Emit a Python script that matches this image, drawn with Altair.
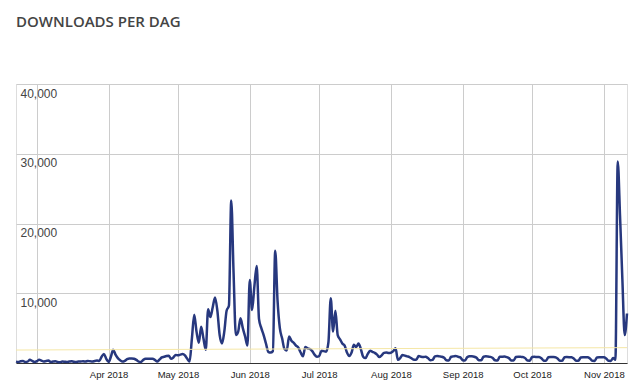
import altair as alt
import pandas as pd

# Daily downloads, 20 Feb 2018 - 11 Nov 2018
feb = [200, 150, 250, 300, 150, 200, 450, 300, 150]
mar = [250, 450, 350, 200, 300, 350, 150, 200, 250, 150, 120, 200, 180, 150, 200, 250,
       180, 150, 200, 220, 250, 200, 300, 250, 200, 300, 350, 300, 900, 1300, 600]
apr = [150, 900, 1900, 1200, 700, 400, 200, 300, 550, 650, 650, 600, 450, 200, 150,
       450, 600, 600, 600, 600, 450, 200, 500, 800, 900, 1000, 1050, 600, 800, 1150]
may = [1100, 1200, 1300, 1100, 600, 200, 3500, 6900, 4500, 2900, 5200, 3500, 1900, 7700,
       6600, 8000, 9400, 7500, 4000, 2800, 4500, 7500, 8200, 23300, 13000, 4000, 4500,
       6400, 5000, 3800, 2500]
jun = [11900, 7600, 11000, 13900, 6300, 5000, 4000, 2800, 1600, 1500, 1700, 16100, 9000,
       5000, 3500, 2000, 1800, 3800, 3200, 2900, 2500, 2200, 1500, 950, 2300, 2100, 2000,
       1700, 1200, 900]
jul = [1000, 1750, 1700, 1600, 3000, 9300, 4500, 7500, 4000, 3400, 2800, 2500, 1500, 1000,
       1500, 2600, 2300, 2800, 2000, 900, 700, 1300, 1750, 1600, 1450, 1200, 850, 1100,
       1450, 1500, 1450]
aug = [1480, 1700, 2100, 450, 700, 1150, 1050, 950, 850, 650, 450, 500, 1000, 900, 850,
       900, 700, 400, 450, 950, 1000, 950, 900, 750, 400, 350, 900, 950, 1000, 900, 800]
sep = [400, 350, 850, 950, 950, 900, 750, 400, 380, 900, 950, 920, 880, 700, 380, 350,
       880, 900, 920, 850, 700, 370, 350, 850, 900, 880, 870, 700, 360, 340]
oct_ = [850, 880, 860, 850, 680, 340, 330, 820, 860, 850, 830, 650, 330, 320, 830, 850,
        840, 820, 640, 320, 310, 800, 840, 830, 820, 630, 320, 300, 800, 830, 820]
nov = [820, 650, 320, 300, 700, 450, 28900, 21000, 12000, 4000, 7100]

values = feb + mar + apr + may + jun + jul + aug + sep + oct_ + nov
dates = pd.date_range("2018-02-20", periods=len(values), freq="D")
df = pd.DataFrame({"date": dates.strftime("%Y-%m-%d"), "downloads": values})

trend_dates = ["2018-02-20", "2018-11-11"]
trend_values = [1860, 2200]
trend = pd.DataFrame({"date": trend_dates, "downloads": trend_values})

y_ticks = [0, 5000, 10000, 15000, 20000, 25000, 30000, 35000, 40000]

x_enc = alt.X(
    "date:T",
    scale=alt.Scale(domain=["2018-02-20", "2018-11-11"], nice=False),
    axis=alt.Axis(
        title=None,
        tickCount={"interval": "month", "step": 1},
        labelExpr="month(datum.value) == 1 || month(datum.value) == 2 ? '' : timeFormat(datum.value, '%b %Y')",
        grid=True,
        gridColor="#cccccc",
        ticks=False,
        domain=True,
        domainColor="#333333",
        domainWidth=1,
        labelFont="Liberation Sans",
        labelFontSize=9.5,
        labelColor="#222222",
        labelPadding=6,
    ),
)
y_enc = alt.Y(
    "downloads:Q",
    scale=alt.Scale(domain=[0, 40000], nice=False),
    axis=alt.Axis(
        title=None,
        values=y_ticks,
        format=",.0f",
        labelExpr="datum.value == 0 || datum.value % 10000 != 0 ? '' : datum.label",
        grid=True,
        gridColor={"condition": {"test": "datum.value % 10000 == 0", "value": "#cccccc"},
                   "value": "#ebebeb"},
        ticks=False,
        domain=False,
        labelAlign="left",
        labelBaseline="top",
        labelPadding=-4,
        labelOffset=4,
        labelFont="Liberation Sans",
        labelFontSize=12,
        labelColor="#444444",
    ),
)

trend_line = alt.Chart(trend).mark_line(color="#f5e7a6", strokeWidth=1).encode(
    x=alt.X("date:T"), y=alt.Y("downloads:Q")
)
main_line = alt.Chart(df).mark_line(
    color="#27387e", strokeWidth=2.5, interpolate="monotone"
).encode(x=x_enc, y=y_enc)

chart = alt.layer(main_line, trend_line).properties(
    width=611,
    height=279,
    autosize="none",
    padding={"left": 16, "top": 84, "right": 13, "bottom": 26},
    title=alt.TitleParams(
        "DOWNLOADS PER DAG",
        anchor="start",
        frame="group",
        font="Open Sans",
        fontSize=15,
        fontWeight=600,
        color="#444444",
        baseline="alphabetic",
        offset=42,
    ),
).configure_view(stroke=None).configure(background="white")

chart.save("out.html", embed_options={"renderer": "svg", "actions": False})
